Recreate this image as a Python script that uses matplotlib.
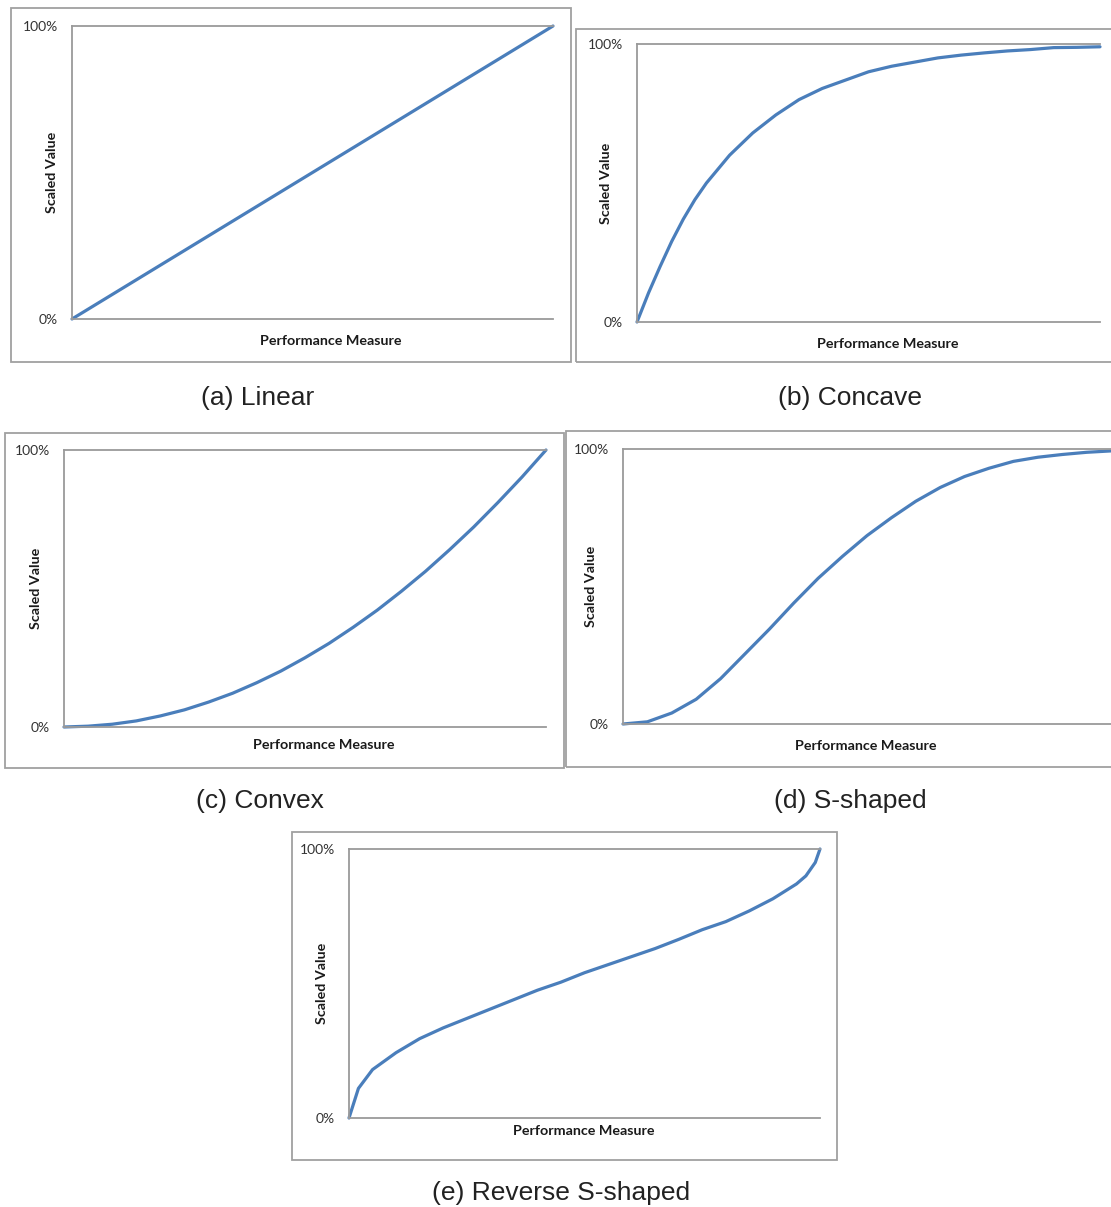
import matplotlib
matplotlib.use("Agg")
import matplotlib.pyplot as plt
from matplotlib.patches import Rectangle

# ---------------- data ----------------
linear_x = [0.0, 0.1, 0.2, 0.3, 0.4, 0.5, 0.6, 0.7, 0.8, 0.9, 1.0]
linear_y = [0.0, 0.1, 0.2, 0.3, 0.4, 0.5, 0.6, 0.7, 0.8, 0.9, 1.0]

concave_x = [0.0, 0.025, 0.05, 0.075, 0.10, 0.125, 0.15, 0.20, 0.25, 0.30, 0.35, 0.40, 0.45, 0.50,
             0.55, 0.60, 0.65, 0.70, 0.75, 0.80, 0.85, 0.90, 0.95, 1.0]
concave_y = [0.0, 0.105, 0.20, 0.29, 0.37, 0.44, 0.50, 0.60, 0.68, 0.745, 0.80, 0.84, 0.87, 0.90,
             0.92, 0.935, 0.95, 0.96, 0.968, 0.975, 0.98, 0.987, 0.988, 0.99]

convex_x = [0.0, 0.05, 0.10, 0.15, 0.20, 0.25, 0.30, 0.35, 0.40, 0.45, 0.50,
            0.55, 0.60, 0.65, 0.70, 0.75, 0.80, 0.85, 0.90, 0.95, 1.0]
convex_y = [0.0, 0.003, 0.01, 0.022, 0.04, 0.062, 0.09, 0.122, 0.16, 0.202, 0.25,
            0.302, 0.36, 0.422, 0.49, 0.562, 0.64, 0.722, 0.81, 0.902, 1.0]

sshape_x = [0.0, 0.05, 0.10, 0.15, 0.20, 0.25, 0.30, 0.35, 0.40, 0.45, 0.50,
            0.55, 0.60, 0.65, 0.70, 0.75, 0.80, 0.85, 0.90, 0.95, 1.0]
sshape_y = [0.0, 0.008, 0.04, 0.09, 0.165, 0.255, 0.345, 0.44, 0.53, 0.61, 0.685,
            0.75, 0.81, 0.86, 0.90, 0.93, 0.955, 0.97, 0.98, 0.988, 0.993]

rev_x = [0.0, 0.02, 0.05, 0.10, 0.15, 0.20, 0.25, 0.30, 0.35, 0.40, 0.45, 0.50,
         0.55, 0.60, 0.65, 0.70, 0.75, 0.80, 0.85, 0.90, 0.95, 0.97, 0.99, 1.0]
rev_y = [0.0, 0.11, 0.18, 0.243, 0.295, 0.335, 0.37, 0.405, 0.44, 0.475, 0.505, 0.54,
         0.57, 0.60, 0.63, 0.664, 0.70, 0.73, 0.77, 0.815, 0.87, 0.90, 0.95, 1.0]

ytick_vals = [0, 1]
ytick_labels = ["0%", "100%"]
captions = ["(a) Linear", "(b) Concave", "(c) Convex", "(d) S-shaped", "(e) Reverse S-shaped"]
xlabel = "Performance Measure"
ylabel = "Scaled Value"

# ---------------- layout ----------------
W, H = 1111, 1207
fig = plt.figure(figsize=(W / 100, H / 100), dpi=100)

LINE_C = "#4a7ebb"
GRID_C = "#9a9a9a"
FRAME_C = "#a0a0a0"


def fbox(x0, x1, y0, y1):
    return [x0 / W, 1 - y1 / H, (x1 - x0) / W, (y1 - y0) / H]


panels = [
    # frame box, axes box, xlabel pos px (x, offset), ylabel offset px, caption pos, data
    ((11, 571, 8, 362), (72, 553, 26, 319), (331, 22), 20, (258, 398), (linear_x, linear_y)),
    ((576, 1125, 29, 362), (637, 1100, 44, 322), (888, 22), 31, (850, 398), (concave_x, concave_y)),
    ((5, 564, 433, 768), (64, 546, 450, 727), (324, 18), 28, (260, 801), (convex_x, convex_y)),
    ((566, 1125, 431, 767), (623, 1111, 449, 724), (866, 22), 32, (850, 801), (sshape_x, sshape_y)),
    ((292, 837, 832, 1160), (349, 820, 849, 1118), (584, 13), 27, (561, 1193), (rev_x, rev_y)),
]

for i, (fr, ab, (xlx, xoff), yoff, cap, (xs, ys)) in enumerate(panels):
    # outer chart frame
    fx0, fx1, fy0, fy1 = fr
    fig.patches.append(Rectangle((fx0 / W, 1 - fy1 / H), (fx1 - fx0) / W, (fy1 - fy0) / H,
                                 transform=fig.transFigure, fill=False,
                                 edgecolor=FRAME_C, linewidth=1.3, zorder=0))
    x0, x1, y0, y1 = ab
    ax = fig.add_axes(fbox(x0, x1, y0, y1))
    ax.plot(xs, ys, color=LINE_C, linewidth=2.3, solid_capstyle="round",
            solid_joinstyle="round", clip_on=False)
    ax.set_xlim(0, 1)
    ax.set_ylim(0, 1)
    ax.set_xticks([])
    ax.set_yticks(ytick_vals)
    ax.set_yticklabels(ytick_labels, fontfamily="Lato", fontsize=10, color="#333333")
    ax.tick_params(axis="y", length=0, pad=10)
    ax.spines["right"].set_visible(False)
    for s in ["left", "top", "bottom"]:
        ax.spines[s].set_color(GRID_C)
        ax.spines[s].set_linewidth(1.3)
    aw = x1 - x0
    ah = y1 - y0
    ax.text((xlx - x0) / aw, -xoff / ah, xlabel, transform=ax.transAxes,
            ha="center", va="center", fontfamily="Lato", fontweight="bold",
            fontsize=10.3, color="#1a1a1a")
    ax.text(-yoff / aw, 0.5, ylabel, transform=ax.transAxes, rotation=90,
            ha="center", va="center", fontfamily="Lato", fontweight="bold",
            fontsize=10.3, color="#1a1a1a")
    fig.text(cap[0] / W, 1 - cap[1] / H, captions[i], ha="center", va="center",
             fontfamily="Liberation Sans", fontsize=19, color="#222222")

fig.savefig("out.png", dpi=100, facecolor="white")
